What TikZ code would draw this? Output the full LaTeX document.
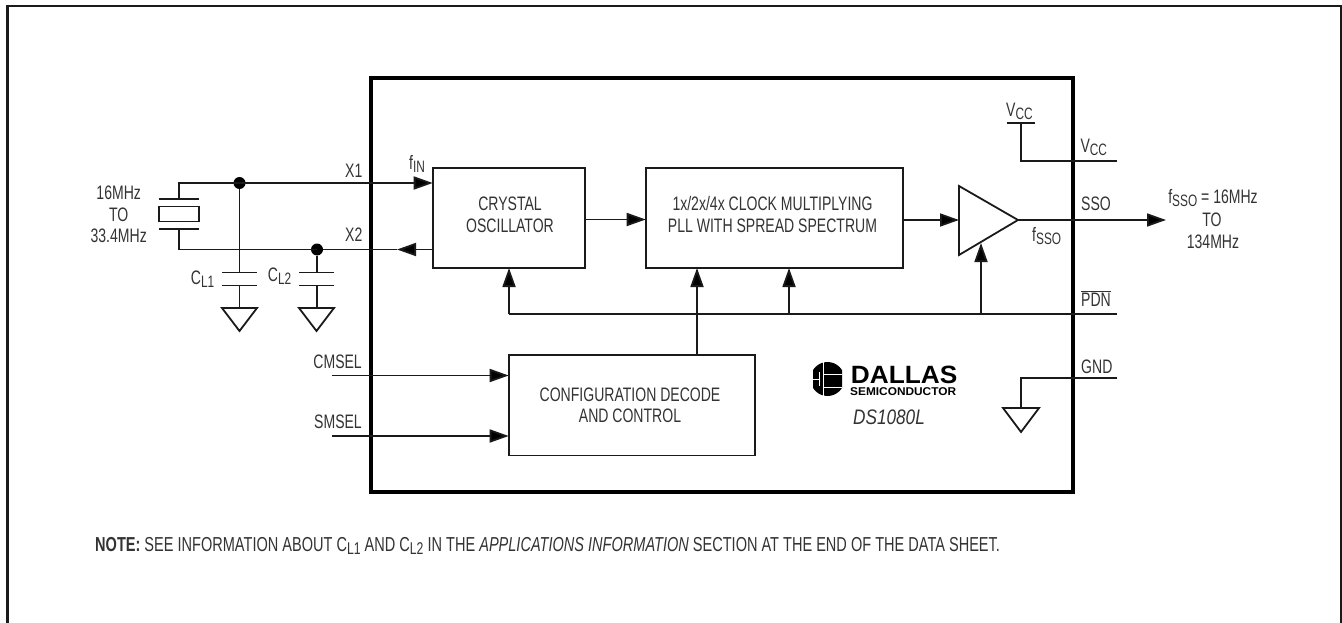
\documentclass[tikz,border=0pt]{standalone}
\usepackage{fontspec}
\setmainfont[FakeStretch=0.72]{Liberation Sans}
\newfontfamily\logofont[FakeStretch=1.05]{Liberation Sans}
\newfontfamily\partfont[FakeStretch=0.82]{Liberation Sans}
\usetikzlibrary{arrows.meta}
\definecolor{ink}{HTML}{1A1A1A}
\definecolor{txt}{HTML}{333333}
\newcommand{\sbs}[1]{\raisebox{-3pt}{\fontsize{16.5}{17}\selectfont #1}}
\newcommand{\nsbs}[1]{\raisebox{-3.5pt}{\fontsize{17}{18}\selectfont #1}}
\tikzset{
  x=1pt,y=-1pt,
  wire/.style={draw=ink,line width=1.8pt},
  sig/.style={wire,-{Triangle[length=19pt,width=13pt,fill=black]}},
  block/.style={draw=ink,line width=1.8pt,fill=white,anchor=north west,inner sep=0pt,outer sep=0pt},
  lbl/.style={font=\fontsize{19.5}{22}\selectfont,text=txt,inner sep=0pt,align=center},
  junction/.style={circle,fill=black,draw=none,minimum size=12pt,inner sep=0pt},
  gndsym/.style={draw=ink,line width=1.8pt,line join=miter}
}
\begin{document}
\begin{tikzpicture}
\useasboundingbox (0,0) rectangle (1342,623);
% outer frame (open bottom)
\draw[draw=ink,line width=2.6pt] (7.3,623) -- (7.3,6) -- (1341,6) -- (1341,623);
% chip outline
\node[draw=black,line width=4pt,anchor=north west,inner sep=0pt,outer sep=0pt,minimum width=702.2pt,minimum height=414pt] (chip) at (370.5,78) {};
% blocks
\node[block,minimum width=152.6pt,minimum height=100.3pt] (osc) at (432.7,167.7) {};
\node[lbl,anchor=base] (osc1) at (510,211) {CRYSTAL};
\node[lbl,anchor=base] (osc2) at (510,233) {OSCILLATOR};
\node[block,minimum width=257.6pt,minimum height=100.3pt] (pll) at (645.7,167.7) {};
\node[lbl,anchor=base] (pll1) at (772.5,211) {1x/2x/4x CLOCK MULTIPLYING};
\node[lbl,anchor=base] (pll2) at (772.5,233) {PLL WITH SPREAD SPECTRUM};
\node[block,minimum width=246.3pt,minimum height=100.2pt] (cfg) at (508.7,355.3) {};
\node[lbl,anchor=base] (cfg1) at (630,401) {CONFIGURATION DECODE};
\node[lbl,anchor=base] (cfg2) at (630,422.7) {AND CONTROL};
% buffer
\coordinate (ampT) at (959,186);
\coordinate (ampB) at (959,255);
\coordinate (ampA) at (1018,220);
\coordinate (ampL) at (959,220);
\coordinate (ampP) at (981,243);
\draw[wire,line join=miter] (ampT) -- (ampA) -- (ampB) -- cycle;
% named junctions
\coordinate (xl) at (179,183);
\coordinate (xr) at (179,249.5);
\node[junction] (j1) at (239.5,183) {};
\node[junction] (j2) at (317,249.5) {};
% crystal
\coordinate (pa) at (179,199);
\coordinate (pb) at (179,229);
\node[draw=ink,line width=1.8pt,inner sep=0pt,outer sep=0pt,minimum width=40pt,minimum height=15pt] (xtal) at (179,214) {};
\draw[wire] (159,199) -- (199,199);
\draw[wire] (159,229) -- (199,229);
\draw[wire] (pa) -- (xl) -- (j1.center);
\draw[wire] (pb) -- (xr) -- (j2.center);
\coordinate (oscX1) at (osc.west |- xl);
\coordinate (oscX2) at (osc.west |- xr);
\coordinate (x2tip) at (397,249.5);
\draw[sig] (j1.center) -- (oscX1);
\draw[sig] (oscX2) -- (x2tip);
\draw[wire] (x2tip) -- (j2);
% caps
\coordinate (c1t) at (239.5,272.5);
\coordinate (c1b) at (239.5,285.5);
\coordinate (g1) at (239.5,308);
\coordinate (c2t) at (317,272.5);
\coordinate (c2b) at (317,285.5);
\coordinate (g2) at (317,308);
\draw[wire] (j1) -- (c1t);
\draw[wire] (222,272.5) -- (257,272.5);
\draw[wire] (222,285.5) -- (257,285.5);
\draw[wire] (c1b) -- (g1);
\draw[gndsym] (222,308) -- (257,308) -- (239.5,331) -- cycle;
\draw[wire] (j2) -- (c2t);
\draw[wire] (299,272.5) -- (334,272.5);
\draw[wire] (299,285.5) -- (334,285.5);
\draw[wire] (c2b) -- (g2);
\draw[gndsym] (299,308) -- (334,308) -- (316.5,331) -- cycle;
% internal signals
\draw[sig] (osc.east |- 0,219.5) -- (pll.west |- 0,219.5);
\draw[sig] (pll.east |- ampL) -- (ampL);
\coordinate (sso) at (1166,220);
\draw[sig] (ampA) -- (sso);
\coordinate (pdnR) at (1117,314);
\coordinate (pdnL) at (509,314);
\draw[wire] (pdnL) -- (pdnR);
\draw[sig] (pdnL) -- (509,268);
\draw[sig] (789,314) -- (789,268);
\draw[sig] (981,314) -- (ampP);
\draw[sig] (697,355.3) -- (697,268);
\coordinate (cm) at (331.7,375.5);
\coordinate (sm) at (331.7,436);
\draw[sig] (cm) -- (cfg.west |- cm);
\draw[sig] (sm) -- (cfg.west |- sm);
% VCC
\draw[wire] (1007,123) -- (1035,123);
\draw[wire] (1021,123) -- (1021,161) -- (1117,161);
% GND
\draw[wire] (1117,378) -- (1021,378) -- (1021,408);
\draw[gndsym] (1003,408) -- (1039,408) -- (1021,432) -- cycle;
% labels
\node[lbl,anchor=base] (f1) at (118.7,199.3) {16MHz};
\node[lbl,anchor=base] (f2) at (118.7,221) {TO};
\node[lbl,anchor=base] (f3) at (118.7,242.7) {33.4MHz};
\node[lbl,anchor=base west] (lx1) at (345,178) {X1};
\node[lbl,anchor=base west] (lx2) at (345,241.7) {X2};
\node[lbl,anchor=base west] (lfin) at (409,169.3) {f\sbs{IN}};
\node[lbl,anchor=base west] (lc1) at (190.7,284) {C\sbs{L1}};
\node[lbl,anchor=base west] (lc2) at (267.7,281.7) {C\sbs{L2}};
\node[lbl,anchor=base west] (lv1) at (1006,116.7) {V\sbs{CC}};
\node[lbl,anchor=base west] (lv2) at (1080.3,152.7) {V\sbs{CC}};
\node[lbl,anchor=base west] (lsso) at (1081,211) {SSO};
\node[lbl,anchor=base west] (lfs) at (1032,241) {f\sbs{SSO}};
\node[lbl,anchor=base west] (lpdn) at (1081,306) {$\overline{\mbox{PDN}}$};
\node[lbl,anchor=base west] (lgnd) at (1081,373) {GND};
\node[lbl,anchor=base east] (lcm) at (362,368) {CMSEL};
\node[lbl,anchor=base east] (lsm) at (362,428) {SMSEL};
\node[lbl,anchor=base] (o1) at (1213,203.3) {f\sbs{SSO} = 16MHz};
\node[lbl,anchor=base] (o2) at (1212,226.7) {TO};
\node[lbl,anchor=base] (o3) at (1213,248.3) {134MHz};
% logo
\begin{scope}
\clip (813,360) rectangle (842,397);
\fill[black] (827.5,379) circle (17pt);
\end{scope}
\draw[white,line width=1pt] (813,379) -- (819,379) (819,372) -- (819,386) (823,360) -- (823,397) (823,374) -- (842,374) (823,387) -- (842,387);
\node[anchor=base west,inner sep=0pt,font=\logofont\bfseries\fontsize{25}{25}\selectfont,text=black] (dal) at (850.7,383) {DALLAS};
\node[anchor=base west,inner sep=0pt,font=\logofont\bfseries\fontsize{11.3}{12}\selectfont,text=black] (semi) at (850,395) {SEMICONDUCTOR};
\node[lbl,anchor=base,font=\partfont\itshape\fontsize{21}{22}\selectfont] (part) at (889,424) {DS1080L};
% note
\node[lbl,anchor=base west,font=\fontsize{20.2}{22}\selectfont] (note) at (95,551) {\textbf{NOTE:} SEE INFORMATION ABOUT C\nsbs{L1} AND C\nsbs{L2} IN THE \textit{APPLICATIONS INFORMATION} SECTION AT THE END OF THE DATA SHEET.};
\end{tikzpicture}
\end{document}
